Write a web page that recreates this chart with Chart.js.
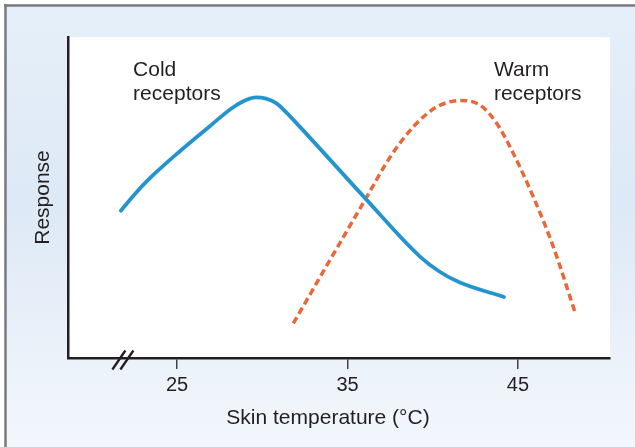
<!DOCTYPE html>
<html>
<head>
<meta charset="utf-8">
<script src="https://cdn.jsdelivr.net/npm/chart.js@4/dist/chart.umd.min.js"></script>
<style>
  html, body { margin: 0; padding: 0; background: #ffffff; }
  canvas { display: block; }
</style>
</head>
<body>
<canvas id="c" width="635" height="447"></canvas>
<script>
// ---- data ----
const coldTemp = [21.70, 22.54, 23.42, 25.18, 26.94, 28.23, 29.05, 29.63, 30.22, 30.81, 31.39, 32.21, 36.03, 39.25, 40.43, 41.60, 44.18];
const coldResp = [45.9, 51.2, 56.1, 64.5, 72.3, 77.9, 80.4, 81.2, 80.8, 79.4, 76.6, 72.0, 49.8, 31.6, 26.8, 23.5, 19.0];
const warmTemp = [31.82, 33.97, 36.13, 37.49, 38.86, 40.23, 41.60, 42.77, 43.75, 44.72, 45.90, 47.07, 48.34];
const warmResp = [10.8, 30.5, 50.2, 62.5, 72.0, 78.2, 80.2, 78.8, 73.1, 63.8, 50.2, 34.7, 14.4];
const xTickValues = [25, 35, 45];
const seriesNames = ['Cold receptors', 'Warm receptors'];
const curveLabels = [['Cold', 'receptors'], ['Warm', 'receptors']];
const xTitle = 'Skin temperature (°C)';
const yTitle = 'Response';
const axisBreakAt = 21.82;

// ---- styling / layout ----
const FONT = '"Liberation Sans", Arial, Helvetica, sans-serif';
const TEXT = '#231f20';
const labelAnchors = [{x: 22.42, y: 87.9}, {x: 43.59, y: 87.9}];

const toPts = (xs, ys) => xs.map((x, i) => ({x, y: ys[i]}));

const bgPlugin = {
  id: 'bg',
  beforeDraw(chart) {
    const {ctx, width, height, chartArea: a} = chart;
    ctx.save();
    ctx.fillStyle = '#ffffff';
    ctx.fillRect(0, 0, width, height);
    const g = ctx.createLinearGradient(0, 4, 0, height);
    g.addColorStop(0, '#e5eff9');
    g.addColorStop(0.45, '#dde9f6');
    g.addColorStop(1, '#f3f7fc');
    ctx.fillStyle = g;
    ctx.fillRect(4, 4, width - 4, height - 4);
    ctx.strokeStyle = '#7b7b7b';
    ctx.lineWidth = 2.5;
    ctx.beginPath();
    ctx.moveTo(4, 5.5); ctx.lineTo(width, 5.5);
    ctx.moveTo(5.5, 4); ctx.lineTo(5.5, height);
    ctx.stroke();
    ctx.fillStyle = '#ffffff';
    ctx.fillRect(a.left, a.top, a.right - a.left, a.bottom - a.top);
    ctx.restore();
  }
};

const decoPlugin = {
  id: 'deco',
  afterDraw(chart) {
    const {ctx, chartArea: a, scales: {x, y}} = chart;
    ctx.save();
    // axis break marks
    const cx = x.getPixelForValue(axisBreakAt);
    const by = a.bottom + 1;
    ctx.strokeStyle = '#231f20';
    ctx.lineWidth = 2.3;
    ctx.beginPath();
    [-4, 4].forEach(o => {
      ctx.moveTo(cx + o - 6.5, by + 10.5);
      ctx.lineTo(cx + o + 6.5, by - 8.5);
    });
    ctx.stroke();
    // curve labels
    ctx.fillStyle = TEXT;
    ctx.font = '21px ' + FONT;
    ctx.textAlign = 'left';
    ctx.textBaseline = 'alphabetic';
    curveLabels.forEach((lines, i) => {
      const px = x.getPixelForValue(labelAnchors[i].x);
      const py = y.getPixelForValue(labelAnchors[i].y);
      lines.forEach((t, j) => ctx.fillText(t, px, py + j * 24));
    });
    // x axis title
    ctx.textAlign = 'center';
    ctx.fillText(xTitle, (a.left + a.right) / 2 - 11, a.bottom + 66);
    ctx.restore();
  }
};

new Chart(document.getElementById('c'), {
  type: 'line',
  data: {
    datasets: [
      {
        label: seriesNames[0],
        data: toPts(coldTemp, coldResp),
        borderColor: '#2494d0',
        borderWidth: 3.8,
        pointRadius: 0,
        cubicInterpolationMode: 'monotone',
        borderCapStyle: 'round',
        borderJoinStyle: 'round',
        fill: false
      },
      {
        label: seriesNames[1],
        data: toPts(warmTemp, warmResp),
        borderColor: '#e9683a',
        borderWidth: 3.5,
        borderDash: [7, 4],
        pointRadius: 0,
        cubicInterpolationMode: 'monotone',
        borderCapStyle: 'butt',
        fill: false
      }
    ]
  },
  options: {
    responsive: false,
    animation: false,
    devicePixelRatio: 1,
    layout: { padding: { top: 37, right: 25, left: 0, bottom: 0 } },
    plugins: { legend: { display: false }, tooltip: { enabled: false } },
    scales: {
      x: {
        type: 'linear',
        min: 18.6,
        max: 50.4,
        afterFit(s) { s.height = 89; },
        afterBuildTicks(s) { s.ticks = xTickValues.map(v => ({value: v})); },
        grid: { display: true, drawOnChartArea: false, drawTicks: true, tickLength: 11, color: '#444444', lineWidth: 1.5 },
        border: { display: true, color: '#231f20', width: 2.5 },
        ticks: { color: TEXT, font: { family: FONT, size: 20 }, padding: 4, maxRotation: 0, autoSkip: false },
        title: { display: false }
      },
      y: {
        min: 0,
        max: 100,
        afterFit(s) { s.width = 68; },
        grid: { display: false },
        border: { display: true, color: '#231f20', width: 2.5 },
        ticks: { display: false },
        title: { display: true, text: yTitle, color: TEXT, font: { family: FONT, size: 21 }, padding: { top: 31, bottom: 0 } }
      }
    }
  },
  plugins: [bgPlugin, decoPlugin]
});
</script>
</body>
</html>
